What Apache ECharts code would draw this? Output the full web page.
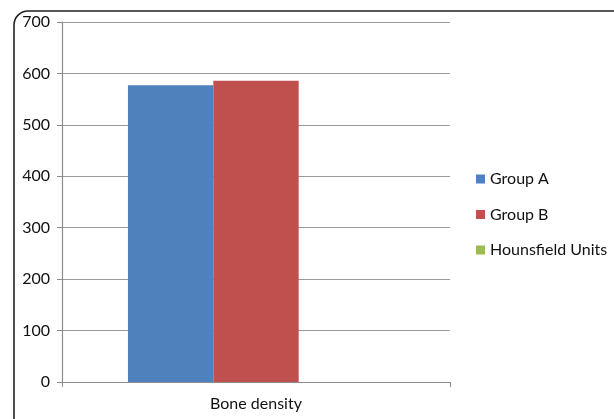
<!DOCTYPE html>
<html><head><meta charset="utf-8">
<script src="https://cdn.jsdelivr.net/npm/echarts@6/dist/echarts.min.js"></script>
<style>html,body{margin:0;padding:0;background:#fff}#c{width:614px;height:419px}</style>
</head><body><div id="c"></div>
<script>
const categories = ['Bone density'];
const seriesNames = ['Group A', 'Group B', 'Hounsfield Units'];
const groupA = [577];
const groupB = [586];
const hounsfield = [0];
const yTicks = { min: 0, max: 700, interval: 100 };
const colors = ['#4F81BD', '#C0504D', '#9BBB59'];
const values = [groupA, groupB, hounsfield];

const chart = echarts.init(document.getElementById('c'), null, { renderer: 'canvas' });
const font = 'Lato, "Open Sans", sans-serif';
chart.setOption({
  animation: false,
  backgroundColor: '#fff',
  graphic: [{
    type: 'rect',
    shape: { x: 14, y: 11, width: 640, height: 440, r: 14 },
    style: { fill: 'none', stroke: '#222', lineWidth: 1.6 },
    z: 100
  }],
  grid: { left: 62, right: 164, top: 22, bottom: 37 },
  legend: {
    orient: 'vertical', left: 471, top: 166,
    itemWidth: 9, itemHeight: 9, itemGap: 19.5,
    icon: 'rect',
    textStyle: { fontFamily: font, fontSize: 16, color: '#111' },
    data: seriesNames
  },
  xAxis: {
    type: 'category', data: categories,
    axisLine: { lineStyle: { color: '#8c8c8c', width: 1.2 } },
    axisTick: { show: true, length: 5, lineStyle: { color: '#8c8c8c' } },
    axisLabel: { fontFamily: font, fontSize: 16, color: '#111', margin: 14 }
  },
  yAxis: {
    type: 'value', min: yTicks.min, max: yTicks.max, interval: yTicks.interval,
    axisLine: { show: true, lineStyle: { color: '#8c8c8c', width: 1.2 } },
    axisTick: { show: true, length: 5, lineStyle: { color: '#8c8c8c' } },
    splitLine: { lineStyle: { color: '#9a9a9a', width: 1.2 } },
    axisLabel: { fontFamily: font, fontSize: 16, color: '#111', margin: 12 }
  },
  series: seriesNames.map((n, i) => ({
    name: n, type: 'bar', data: values[i],
    itemStyle: { color: colors[i] },
    barGap: '0%', barCategoryGap: '34%'
  }))
});
</script></body></html>
